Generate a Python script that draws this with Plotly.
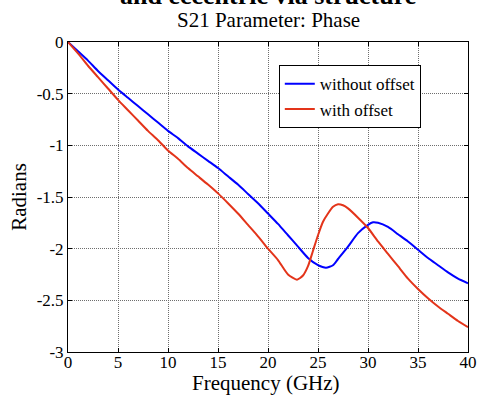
import plotly.graph_objects as go

freq_blue = [0, 1, 2, 3, 4, 5, 6, 7, 8, 9, 10, 11, 12, 13, 14, 15, 16, 17, 18, 19, 20,
             21, 22, 23, 24, 25, 25.8, 26.5, 27, 28, 29, 30, 30.5, 31, 32, 33, 34, 35,
             36, 37, 38, 39, 40]
phase_without_offset = [0, -0.09, -0.18, -0.28, -0.37, -0.46, -0.54, -0.62, -0.70, -0.78,
                        -0.86, -0.93, -1.01, -1.08, -1.15, -1.22, -1.30, -1.38, -1.47, -1.56,
                        -1.66, -1.76, -1.87, -1.98, -2.09, -2.16, -2.185, -2.16, -2.10, -1.98,
                        -1.85, -1.77, -1.745, -1.75, -1.79, -1.86, -1.93, -2.01, -2.09, -2.16,
                        -2.23, -2.29, -2.335]

freq_red = [0, 1, 2, 3, 4, 5, 6, 7, 8, 9, 10, 11, 12, 13, 14, 15, 16, 17, 18, 19, 20,
            21, 22, 22.9, 23.5, 24, 24.5, 25, 25.5, 26, 26.5, 27, 27.5, 28, 29, 30, 31,
            32, 33, 34, 35, 36, 37, 38, 39, 40]
phase_with_offset = [0, -0.11, -0.23, -0.34, -0.45, -0.56, -0.66, -0.76, -0.86, -0.95,
                     -1.05, -1.13, -1.22, -1.30, -1.38, -1.465, -1.56, -1.66, -1.77, -1.88,
                     -2.00, -2.11, -2.25, -2.30, -2.26, -2.17, -2.02, -1.87, -1.74, -1.66,
                     -1.595, -1.57, -1.58, -1.61, -1.70, -1.80, -1.93, -2.05, -2.17, -2.29,
                     -2.39, -2.48, -2.56, -2.63, -2.70, -2.76]

x_tick_vals = [0, 5, 10, 15, 20, 25, 30, 35, 40]
x_tick_text = ["0", "5", "10", "15", "20", "25", "30", "35", "40"]
y_tick_vals = [0, -0.5, -1, -1.5, -2, -2.5, -3]
y_tick_text = ["0", "-0.5", "-1", "-1.5", "-2", "-2.5", "-3"]

series_names = ["without offset", "with offset"]
title_main = "<b>and eccentric via structure</b>"
title_sub = "S21 Parameter: Phase"
x_title = "Frequency (GHz)"
y_title = "Radians"

FONT = "Liberation Serif, Times New Roman, serif"

fig = go.Figure()
fig.add_trace(go.Scatter(x=freq_blue, y=phase_without_offset, mode="lines",
                         name=series_names[0],
                         line=dict(color="#0000FF", width=2, shape="spline", smoothing=0.6)))
fig.add_trace(go.Scatter(x=freq_red, y=phase_with_offset, mode="lines",
                         name=series_names[1],
                         line=dict(color="#E3341A", width=2, shape="spline", smoothing=0.6)))

axis_common = dict(
    showline=True, linecolor="black", linewidth=1, mirror="ticks",
    ticks="inside", ticklen=4, tickcolor="black",
    showgrid=True, gridcolor="#6e6e6e", griddash="1px,1px", gridwidth=1,
    zeroline=False, automargin=False,
    tickfont=dict(family=FONT, size=17, color="black"),
)

fig.update_layout(
    width=478, height=397,
    margin=dict(l=68, r=10, t=42, b=45, autoexpand=False),
    paper_bgcolor="white", plot_bgcolor="white",
    font=dict(family=FONT, color="black"),
    xaxis=dict(range=[0, 40], tickvals=x_tick_vals, ticktext=x_tick_text,
               ticklabelstandoff=-5, **axis_common),
    yaxis=dict(range=[-3, 0], tickvals=y_tick_vals, ticktext=y_tick_text,
               title=dict(text=y_title, font=dict(family=FONT, size=21), standoff=4),
               **axis_common),
    legend=dict(x=0.527, y=0.925, xanchor="left", yanchor="top",
                bgcolor="white", bordercolor="black", borderwidth=1,
                font=dict(family=FONT, size=17, color="black"),
                tracegroupgap=0, itemwidth=30),
    showlegend=True,
    annotations=[
        dict(text=title_main, xref="paper", yref="paper", x=0.5, y=1.0, yshift=30,
             xanchor="center", yanchor="bottom", showarrow=False,
             font=dict(family=FONT, size=26, color="black")),
        dict(text=title_sub, xref="paper", yref="paper", x=0.5, y=1.0, yshift=8,
             xanchor="center", yanchor="bottom", showarrow=False,
             font=dict(family=FONT, size=21, color="black")),
        dict(text=x_title, xref="paper", yref="paper", x=0.495, y=-0.145,
             xanchor="center", yanchor="bottom", showarrow=False,
             font=dict(family=FONT, size=21, color="black")),
    ],
)

fig.write_html("out.html")
